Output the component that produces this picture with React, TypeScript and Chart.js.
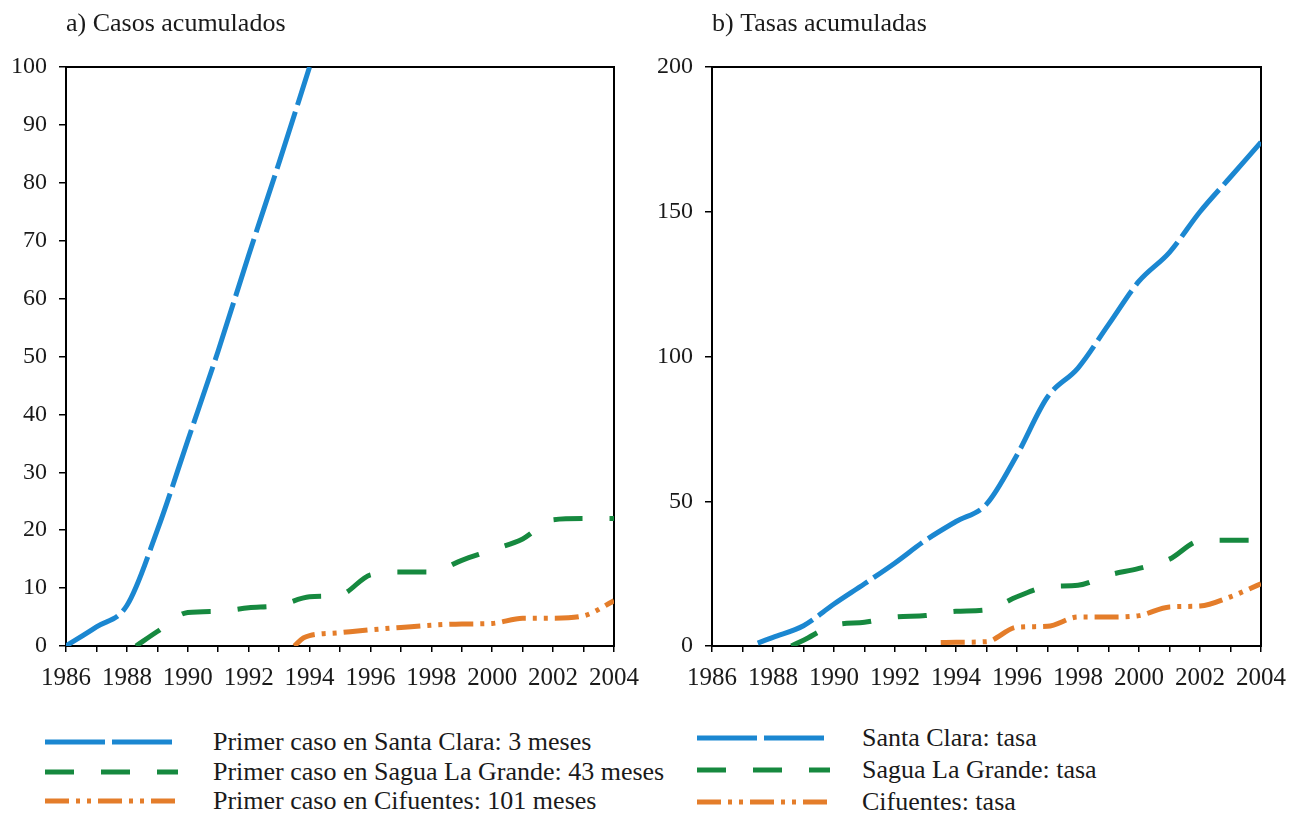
import React, { useEffect, useRef } from "react";
import { Chart, registerables } from "chart.js";

Chart.register(...registerables);

// ---------- data ----------
const casosSantaClaraYears = [1986, 1987, 1988, 1989, 1990, 1991, 1992, 1993, 1994];
const casosSantaClara = [0, 3.3, 7, 20, 35.5, 51, 67.5, 83.5, 100];

const casosSaguaYears = [1988.3, 1989, 1990, 1991, 1992, 1993, 1994, 1995, 1996, 1997, 1998, 1999, 2000, 2001, 2002, 2003, 2004];
const casosSagua = [0, 2.5, 5.8, 6, 6.6, 7, 8.5, 8.8, 12.3, 12.8, 12.8, 14.8, 16.6, 18.5, 21.8, 22, 22];

const casosCifuentesYears = [1993.5, 1993.8, 1994, 1995, 1996, 1997, 1998, 1999, 2000, 2001, 2002, 2003, 2004];
const casosCifuentes = [0, 1.4, 1.8, 2.3, 2.8, 3.2, 3.6, 3.8, 3.9, 4.8, 4.8, 5.2, 7.8];

const tasasSantaClaraYears = [1987.5, 1988, 1989, 1990, 1991, 1992, 1993, 1994, 1995, 1996, 1997, 1998, 1999, 2000, 2001, 2002, 2003, 2004];
const tasasSantaClara = [1, 3, 7, 14.5, 21.5, 28.7, 36.5, 43, 49, 66, 86, 96, 111, 126, 136, 150, 162, 174];

const tasasSaguaYears = [1988.6, 1989, 1990, 1991, 1992, 1993, 1994, 1995, 1996, 1997, 1998, 1999, 2000, 2001, 2002, 2003, 2004];
const tasasSagua = [0, 2, 7.2, 8.2, 10, 10.5, 12, 12.5, 17, 20.5, 21, 24.5, 26.8, 30, 36.3, 36.5, 36.5];

const tasasCifuentesYears = [1993.5, 1994, 1995, 1996, 1997, 1998, 1999, 2000, 2001, 2002, 2003, 2004];
const tasasCifuentes = [1.2, 1.3, 1.5, 6.5, 6.8, 10, 10, 10.5, 13.5, 13.8, 17, 21.5];

const leftLabels = [
  "Primer caso en Santa Clara: 3 meses",
  "Primer caso en Sagua La Grande: 43 meses",
  "Primer caso en Cifuentes: 101 meses",
];
const rightLabels = ["Santa Clara: tasa", "Sagua La Grande: tasa", "Cifuentes: tasa"];

const xMin = 1986;
const xMax = 2004;

// ---------- styles ----------
const FONT = "'Liberation Serif', 'DejaVu Serif', serif";
const BLUE = "#1b87d1";
const GREEN = "#16893f";
const ORANGE = "#e47d2a";
const DASH_BLUE = [60, 7];
const DASH_GREEN = [29, 27];
const DASH_ORANGE = [24, 7, 4, 7, 4, 7];
const STYLES = [
  { color: BLUE, dash: DASH_BLUE },
  { color: GREEN, dash: DASH_GREEN },
  { color: ORANGE, dash: DASH_ORANGE },
];

function pts(xs: number[], ys: number[]) {
  return xs.map((x, i) => ({ x, y: ys[i] }));
}

function makeDataset(label: string, xs: number[], ys: number[], idx: number) {
  return {
    label,
    data: pts(xs, ys),
    borderColor: STYLES[idx].color,
    backgroundColor: STYLES[idx].color,
    borderDash: STYLES[idx].dash,
    borderWidth: 5,
    borderCapStyle: "butt" as const,
    pointRadius: 0,
    cubicInterpolationMode: "monotone" as const,
    fill: false,
  };
}

function makeConfig(opts: {
  title: string;
  datasets: any[];
  yMax: number;
  yStep: number;
  yWidth: number;
  rightPad: number;
}) {
  const axisCommon = {
    border: { display: true, color: "#000", width: 2 },
  };
  return {
    type: "line" as const,
    data: { datasets: opts.datasets },
    options: {
      responsive: false,
      animation: false as const,
      events: [],
      layout: { padding: { left: 0, right: opts.rightPad, top: 0, bottom: 14 } },
      plugins: {
        legend: { display: false },
        tooltip: { enabled: false },
        title: {
          display: true,
          text: opts.title,
          align: "start" as const,
          fullSize: false,
          color: "#1a1a1a",
          font: { family: FONT, size: 26, weight: "normal" as const, lineHeight: 1.2 },
          padding: { top: 9, bottom: 26.8 },
        },
      },
      scales: {
        x: {
          type: "linear" as const,
          position: "bottom" as const,
          min: xMin,
          max: xMax,
          afterFit: (s: any) => {
            s.height = 40;
          },
          ticks: {
            stepSize: 1,
            autoSkip: false,
            maxRotation: 0,
            padding: 11,
            color: "#1a1a1a",
            font: { family: FONT, size: 25 },
            callback: (v: any) => (Number(v) % 2 === 0 ? String(v) : ""),
          },
          grid: {
            display: true,
            drawOnChartArea: false,
            drawTicks: true,
            tickLength: 6,
            color: "#000",
            lineWidth: 1.5,
          },
          ...axisCommon,
        },
        x2: {
          type: "linear" as const,
          position: "top" as const,
          min: xMin,
          max: xMax,
          afterFit: (s: any) => {
            s.height = 0;
          },
          ticks: { display: false },
          grid: { display: true, drawOnChartArea: false, drawTicks: false, color: "#000" },
          ...axisCommon,
        },
        y: {
          type: "linear" as const,
          position: "left" as const,
          min: 0,
          max: opts.yMax,
          afterFit: (s: any) => {
            s.width = opts.yWidth;
          },
          ticks: {
            stepSize: opts.yStep,
            padding: 12,
            color: "#1a1a1a",
            font: { family: FONT, size: 24 },
          },
          grid: {
            display: true,
            drawOnChartArea: false,
            drawTicks: true,
            tickLength: 7,
            color: "#000",
            lineWidth: 1.5,
          },
          ...axisCommon,
        },
        y2: {
          type: "linear" as const,
          position: "right" as const,
          min: 0,
          max: opts.yMax,
          afterFit: (s: any) => {
            s.width = 0;
          },
          ticks: { display: false },
          grid: { display: true, drawOnChartArea: false, drawTicks: false, color: "#000" },
          ...axisCommon,
        },
      },
    },
  };
}

function ChartPanel(props: { config: any; left: number; width: number; height: number }) {
  const ref = useRef<HTMLCanvasElement | null>(null);
  useEffect(() => {
    if (!ref.current) return;
    const chart = new Chart(ref.current, props.config);
    return () => chart.destroy();
  }, []);
  return (
    <canvas
      ref={ref}
      width={props.width}
      height={props.height}
      style={{ position: "absolute", left: props.left, top: 0, width: props.width, height: props.height }}
    />
  );
}

function LegendRow(props: { x: number; y: number; textX: number; label: string; idx: number }) {
  const st = STYLES[props.idx];
  const len = 133;
  return (
    <div style={{ position: "absolute", left: 0, top: 0 }}>
      <svg
        width={len}
        height={10}
        style={{ position: "absolute", left: props.x, top: props.y - 5 }}
      >
        <line
          x1={0}
          y1={5}
          x2={len}
          y2={5}
          stroke={st.color}
          strokeWidth={5}
          strokeDasharray={st.dash.join(" ")}
        />
      </svg>
      <div
        style={{
          position: "absolute",
          left: props.textX,
          top: props.y - 15,
          height: 30,
          lineHeight: "30px",
          whiteSpace: "nowrap",
          fontFamily: FONT,
          fontSize: 26,
          color: "#1a1a1a",
        }}
      >
        {props.label}
      </div>
    </div>
  );
}

export default function App() {
  const leftConfig = makeConfig({
    title: "a) Casos acumulados",
    datasets: [
      makeDataset(leftLabels[0], casosSantaClaraYears, casosSantaClara, 0),
      makeDataset(leftLabels[1], casosSaguaYears, casosSagua, 1),
      makeDataset(leftLabels[2], casosCifuentesYears, casosCifuentes, 2),
    ],
    yMax: 100,
    yStep: 10,
    yWidth: 66,
    rightPad: 35,
  });
  const rightConfig = makeConfig({
    title: "b) Tasas acumuladas",
    datasets: [
      makeDataset(rightLabels[0], tasasSantaClaraYears, tasasSantaClara, 0),
      makeDataset(rightLabels[1], tasasSaguaYears, tasasSagua, 1),
      makeDataset(rightLabels[2], tasasCifuentesYears, tasasCifuentes, 2),
    ],
    yMax: 200,
    yStep: 50,
    yWidth: 62,
    rightPad: 29,
  });
  const leftRowsY = [742, 772, 801];
  const rightRowsY = [738, 770, 802];
  return (
    <div
      style={{
        position: "fixed",
        left: 0,
        top: 0,
        width: 1297,
        height: 816,
        background: "#fff",
        overflow: "hidden",
      }}
    >
      <ChartPanel config={leftConfig} left={0} width={650} height={700} />
      <ChartPanel config={rightConfig} left={650} width={647} height={700} />
      {leftLabels.map((l, i) => (
        <LegendRow key={"l" + i} x={45} y={leftRowsY[i]} textX={213} label={l} idx={i} />
      ))}
      {rightLabels.map((l, i) => (
        <LegendRow key={"r" + i} x={697} y={rightRowsY[i]} textX={862} label={l} idx={i} />
      ))}
    </div>
  );
}
